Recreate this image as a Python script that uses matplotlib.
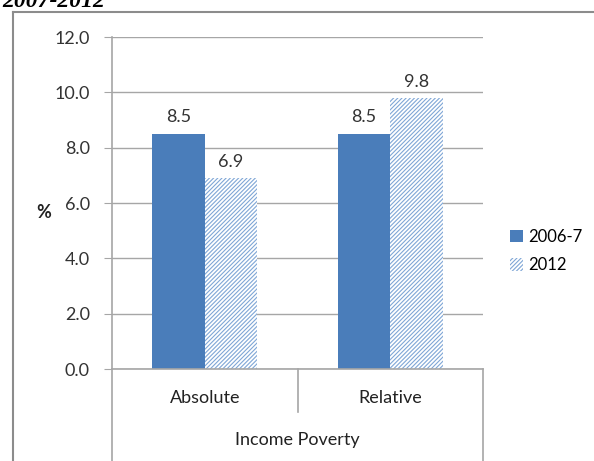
import matplotlib.pyplot as plt
from matplotlib.lines import Line2D
from matplotlib.patches import Patch

categories = ["Absolute", "Relative"]
group_label = "Income Poverty"
series = ["2006-7", "2012"]
v2006 = [8.5, 8.5]
v2012 = [6.9, 9.8]
yticks = [0, 2, 4, 6, 8, 10, 12]

blue = "#4A7DBA"
grey = "#A6A6A6"
fs = 13
plt.rcParams["font.family"] = ["Lato", "DejaVu Sans"]
plt.rcParams["hatch.linewidth"] = 0.8

fig = plt.figure(figsize=(5.94, 4.61), dpi=100)
W, H = 594, 461
ax = fig.add_axes([112 / W, (H - 369) / H, 371 / W, 332 / H])

x = range(len(categories))
w = 0.283
b1 = ax.bar([i - w / 2 for i in x], v2006, w, color=blue, linewidth=0)
b2 = ax.bar([i + w / 2 for i in x], v2012, w, color="white", edgecolor="#7FA6D6",
            hatch="////////", linewidth=0)

for bars, vals in [(b1, v2006), (b2, v2012)]:
    for r, v in zip(bars, vals):
        ax.annotate(f"{v:.1f}", (r.get_x() + r.get_width() / 2, v), xytext=(0, 6),
                    textcoords="offset points", ha="center", va="bottom",
                    fontsize=fs, color="#333333")

ax.set_xlim(-0.5, 1.5)
ax.set_ylim(0, 12)
ax.set_yticks(yticks)
ax.set_yticklabels([f"{t:.1f}" for t in yticks], fontsize=fs, color="#333333")
ax.tick_params(axis="y", length=6, color=grey, pad=10)
ax.set_xticks([])
ax.grid(axis="y", color=grey, linewidth=1)
ax.set_axisbelow(True)
for s in ["top", "right"]:
    ax.spines[s].set_visible(False)
for s in ["left", "bottom"]:
    ax.spines[s].set_color(grey)
    ax.spines[s].set_linewidth(1.2)

# multi-level category axis
tr = ax.get_xaxis_transform()
for xv, y0 in [(-0.5, -0.28), (0.5, -0.13), (1.5, -0.28)]:
    ax.add_line(Line2D([xv, xv], [0, y0], transform=tr, color=grey, lw=1.2, clip_on=False))
for i, c in enumerate(categories):
    ax.text(i, -0.087, c, transform=tr, ha="center", va="center", fontsize=fs, color="#222222")
ax.text(0.5, -0.214, group_label, transform=tr, ha="center", va="center", fontsize=fs,
        color="#222222")

fig.text(44 / W, 1 - 212 / H, "%", ha="center", va="center", fontsize=fs,
         fontweight="bold", color="#222222")

handles = [Patch(facecolor=blue, linewidth=0),
           Patch(facecolor="white", edgecolor="#7FA6D6", hatch="////////", linewidth=0)]
fig.legend(handles, series, loc="center left", bbox_to_anchor=(505 / W, 1 - 251 / H),
           frameon=False, fontsize=12, handlelength=0.75, handleheight=0.75,
           handletextpad=0.35, labelspacing=0.75, borderaxespad=0, borderpad=0.3)

# outer chart frame
fig.add_artist(Line2D([13 / W, 13 / W], [0, 1 - 12 / H], color="#8C8C8C", lw=1.5))
fig.add_artist(Line2D([13 / W, 1], [1 - 12 / H, 1 - 12 / H], color="#8C8C8C", lw=1.5))

# title, cut off at the top
fig.text(2 / W, 1 - 7 / H, "2007-2012", ha="left", va="baseline", fontsize=17,
         fontweight="bold", fontstyle="italic", family="Liberation Serif")

fig.savefig("out.png", dpi=100)
